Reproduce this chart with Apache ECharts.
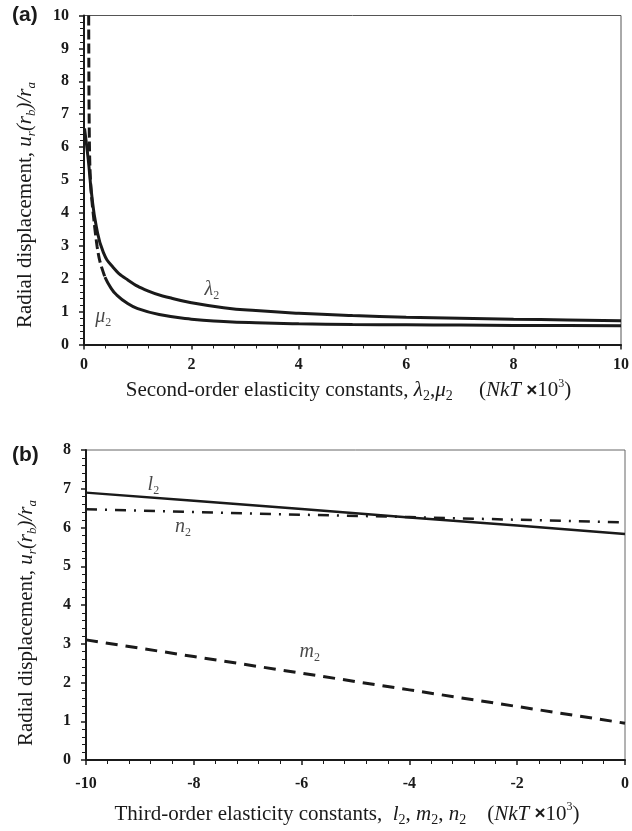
<!DOCTYPE html>
<html lang="en">
<head>
    <meta charset="UTF-8">
    <title>Radial displacement vs elasticity constants</title>
    <style>
        html, body { margin: 0; padding: 0; background: #fff; }
    </style>
</head>
<body>
    <div id="main" style="width: 632px;height:831px;"></div>
    <script src="https://cdn.jsdelivr.net/npm/echarts@6/dist/echarts.min.js"></script>
    <script>
    // (a) second-order constants, x in NkT x 10^3
    var lambdaX = [0.01, 0.08, 0.14, 0.23, 0.36, 0.54, 0.8, 1.2, 1.6, 2, 2.6, 3.2, 4, 5, 6, 7, 8, 9, 10];
    var lambdaY = [6.57, 5.61, 4.6, 3.58, 2.8, 2.35, 1.98, 1.62, 1.42, 1.27, 1.12, 1.03, 0.95, 0.88, 0.83, 0.8, 0.77, 0.745, 0.72];
    // mu2: dashed part near the origin, then solid
    var muDashX = [0.087, 0.09, 0.093, 0.1, 0.11, 0.135, 0.185, 0.245, 0.3, 0.39];
    var muDashY = [10, 8.6, 7.5, 6.2, 5.4, 4.6, 3.78, 2.97, 2.5, 2.05];
    var muX = [0.39, 0.5, 0.6, 0.8, 1, 1.4, 2, 2.6, 3.2, 4, 5, 6, 7, 8, 9, 10];
    var muY = [2.05, 1.72, 1.52, 1.26, 1.09, 0.91, 0.77, 0.7, 0.66, 0.63, 0.61, 0.6, 0.59, 0.58, 0.575, 0.57];

    // (b) third-order constants
    var thirdX = [-10, -8, -6, -4, -2, 0];
    var l2Y = [6.9, 6.69, 6.48, 6.26, 6.05, 5.83];
    var n2Y = [6.47, 6.4, 6.33, 6.27, 6.2, 6.13];
    var m2Y = [3.1, 2.67, 2.24, 1.81, 1.38, 0.95];

    function zip(xs, ys) {
        var out = [];
        for (var i = 0; i < xs.length; i++) {
            out.push([xs[i], ys[i]]);
        }
        return out;
    }

    var ink = '#1a1a1a';
    var serif = '"Liberation Serif", "DejaVu Serif", serif';

    var rich = {
        t: { fontFamily: serif, fontSize: 21, color: ink, lineHeight: 26 },
        i: { fontFamily: serif, fontSize: 21, fontStyle: 'italic', color: ink, lineHeight: 26 },
        s: { fontFamily: serif, fontSize: 13, fontStyle: 'italic', color: ink, lineHeight: 15, verticalAlign: 'bottom' },
        n: { fontFamily: serif, fontSize: 14, color: ink, lineHeight: 15, verticalAlign: 'bottom' },
        p: { fontFamily: serif, fontSize: 12, color: ink, lineHeight: 12, verticalAlign: 'top' },
        x: { fontFamily: '"Liberation Sans", sans-serif', fontSize: 19, fontWeight: 'bold', color: ink, lineHeight: 26 }
    };
    var tagRich = {
        i: { fontFamily: serif, fontSize: 20, fontStyle: 'italic', color: ink, lineHeight: 24 },
        s: { fontFamily: serif, fontSize: 12, color: ink, lineHeight: 14, verticalAlign: 'bottom' }
    };

    var yName = '{t|Radial displacement, }{i|u}{s|r}{i|(r}{s|b}{i|)/r}{s|a}';

    function valueAxis(extra) {
        var ax = {
            type: 'value',
            axisLine: { show: true, onZero: false, lineStyle: { color: ink, width: 2 } },
            axisTick: { show: true, inside: false, length: 5, lineStyle: { color: ink, width: 1.5 } },
            minorTick: { show: true, splitNumber: 5, length: 4, lineStyle: { color: ink, width: 1 } },
            splitLine: { show: false },
            axisLabel: { color: ink, fontFamily: serif, fontWeight: 'bold', fontSize: 16, margin: 12 },
            nameLocation: 'middle',
            nameTextStyle: { rich: rich }
        };
        for (var k in extra) ax[k] = extra[k];
        return ax;
    }

    function tag(text) {
        return {
            formatter: text,
            show: true,
            position: 'inside',
            rich: tagRich
        };
    }

    var myChart = echarts.init(document.getElementById('main'), null, { renderer: 'canvas' });

    var option = {
        animation: false,
        backgroundColor: '#fff',
        grid: [
            { left: 84, top: 15.5, right: 6, height: 329, containLabel: false, show: true, borderColor: '#555', borderWidth: 1 },
            { left: 86, top: 450, right: 7, height: 310, containLabel: false, show: true, borderColor: '#666', borderWidth: 1 }
        ],
        xAxis: [
            valueAxis({
                gridIndex: 0, min: 0, max: 10, interval: 2,
                name: '{t|Second-order elasticity constants, }{i|λ}{n|2}{t|,}{i|μ}{n|2}{t|     (}{i|NkT}{x| ×}{t|10}{p|3}{t|)}',
                nameGap: 33,
                nameTextStyle: { rich: rich, padding: [0, 8, 0, 0] }
            }),
            valueAxis({
                gridIndex: 1, min: -10, max: 0, interval: 2,
                name: '{t|Third-order elasticity constants,  }{i|l}{n|2}{t|, }{i|m}{n|2}{t|, }{i|n}{n|2}{t|    (}{i|NkT}{x| ×}{t|10}{p|3}{t|)}',
                nameGap: 41,
                nameTextStyle: { rich: rich, padding: [0, 17, 0, 0] },
                axisLabel: { color: ink, fontFamily: serif, fontWeight: 'bold', fontSize: 16, margin: 16 }
            })
        ],
        yAxis: [
            valueAxis({
                gridIndex: 0, min: 0, max: 10, interval: 1,
                name: yName, nameRotate: 90, nameGap: 46,
                nameTextStyle: { rich: rich, padding: [0, 50, 0, 0] },
                axisLabel: { color: ink, fontFamily: serif, fontWeight: 'bold', fontSize: 16, margin: 15 }
            }),
            valueAxis({
                gridIndex: 1, min: 0, max: 8, interval: 1,
                name: yName, nameRotate: 90, nameGap: 47,
                nameTextStyle: { rich: rich, padding: [0, 36, 0, 0] },
                axisLabel: { color: ink, fontFamily: serif, fontWeight: 'bold', fontSize: 16, margin: 15 }
            })
        ],
        graphic: [
            { type: 'text', left: 12, top: 5, style: { text: '(a)', fontFamily: '"Liberation Sans", Arial, sans-serif', fontWeight: 'bold', fontSize: 21, fill: ink } },
            { type: 'text', left: 12, top: 445, style: { text: '(b)', fontFamily: '"Liberation Sans", Arial, sans-serif', fontWeight: 'bold', fontSize: 21, fill: ink } }
        ],
        series: [
            {
                name: 'lambda2', type: 'line', xAxisIndex: 0, yAxisIndex: 0,
                data: zip(lambdaX, lambdaY), showSymbol: false, symbol: 'none',
                smooth: 0.5,
                lineStyle: { color: ink, width: 3 }
            },
            {
                name: 'mu2 dashed', type: 'line', xAxisIndex: 0, yAxisIndex: 0,
                data: zip(muDashX, muDashY), showSymbol: false, symbol: 'none',
                smooth: 0.3,
                lineStyle: { color: ink, width: 3, type: [10, 4] }
            },
            {
                name: 'mu2', type: 'line', xAxisIndex: 0, yAxisIndex: 0,
                data: zip(muX, muY), showSymbol: false, symbol: 'none',
                smooth: 0.5,
                lineStyle: { color: ink, width: 3 }
            },
            {
                name: 'l2', type: 'line', xAxisIndex: 1, yAxisIndex: 1,
                data: zip(thirdX, l2Y), showSymbol: false, symbol: 'none',
                lineStyle: { color: ink, width: 2.5 }
            },
            {
                name: 'n2', type: 'line', xAxisIndex: 1, yAxisIndex: 1,
                data: zip(thirdX, n2Y), showSymbol: false, symbol: 'none',
                lineStyle: { color: ink, width: 2.5, type: [11, 8, 2, 8] }
            },
            {
                name: 'm2', type: 'line', xAxisIndex: 1, yAxisIndex: 1,
                data: zip(thirdX, m2Y), showSymbol: false, symbol: 'none',
                lineStyle: { color: ink, width: 3, type: [12, 8] }
            },
            {
                name: 'tags a', type: 'scatter', xAxisIndex: 0, yAxisIndex: 0,
                symbolSize: 1, itemStyle: { color: 'rgba(0,0,0,0)' }, silent: true,
                data: [
                    { value: [2.38, 1.66], label: tag('{i|λ}{s|2}') },
                    { value: [0.36, 0.85], label: tag('{i|μ}{s|2}') }
                ]
            },
            {
                name: 'tags b', type: 'scatter', xAxisIndex: 1, yAxisIndex: 1,
                symbolSize: 1, itemStyle: { color: 'rgba(0,0,0,0)' }, silent: true,
                data: [
                    { value: [-8.75, 7.1], label: tag('{i|l}{s|2}') },
                    { value: [-8.2, 6.02], label: tag('{i|n}{s|2}') },
                    { value: [-5.85, 2.8], label: tag('{i|m}{s|2}') }
                ]
            }
        ]
    };
    myChart.setOption(option);
    </script>
</body>
</html>
